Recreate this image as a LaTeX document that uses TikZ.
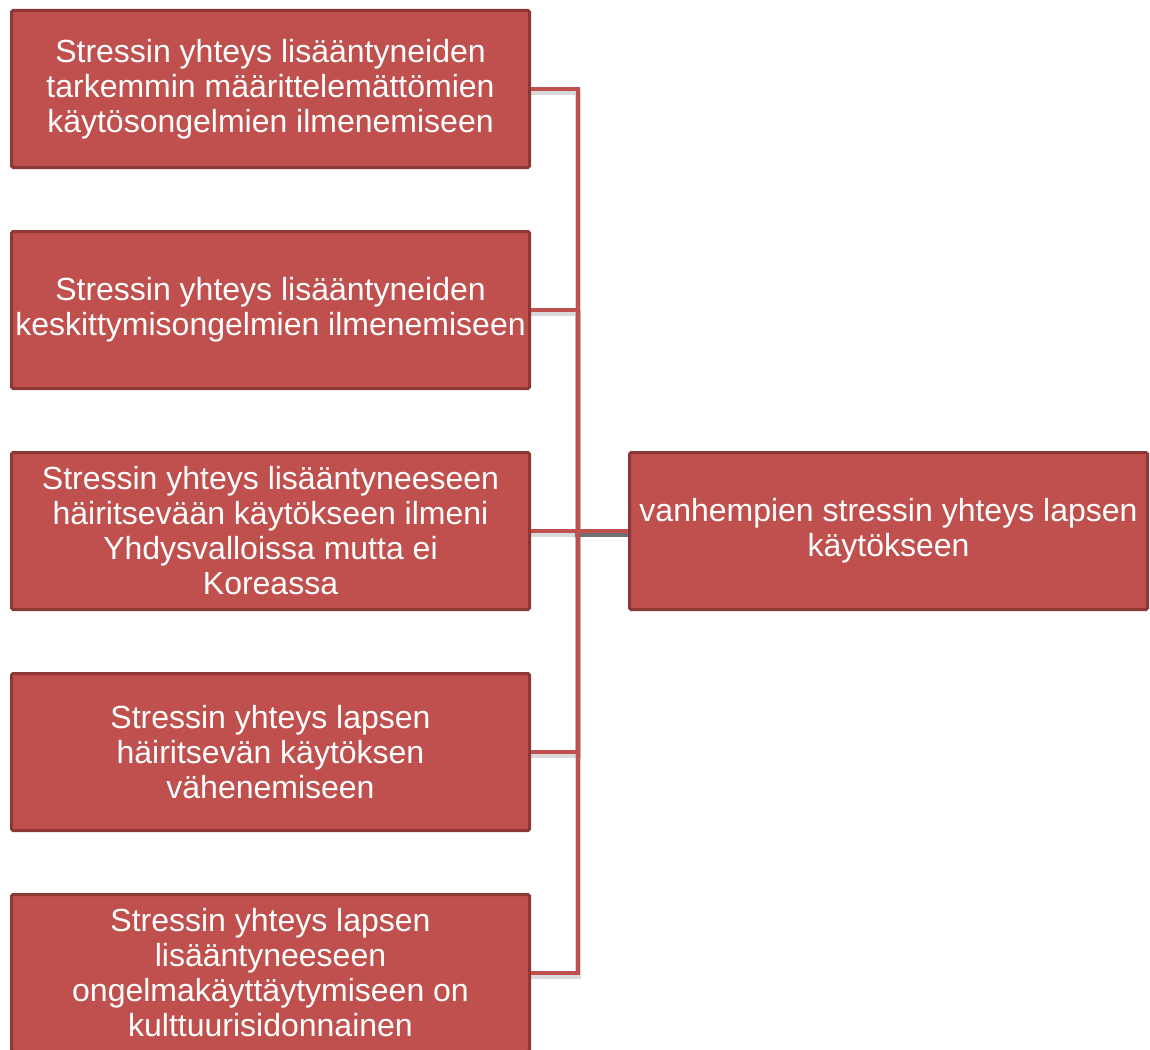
\documentclass[tikz,border=0pt]{standalone}
\usepackage{fontspec}
\setmainfont{Liberation Sans}
\usetikzlibrary{calc}
\definecolor{boxfill}{HTML}{C0504D}
\definecolor{boxline}{HTML}{8C3836}
\tikzset{
  box/.style={draw=boxline, line width=3pt, fill=boxfill, rounded corners=1.5pt,
    minimum width=518pt, minimum height=157pt, inner sep=1pt, text=white,
    align=center, font=\fontsize{32}{35}\selectfont},
  conn/.style={draw=boxfill, line width=4pt},
  connshadow/.style={draw=black, opacity=0.15, line width=6pt},
}
\begin{document}
\begin{tikzpicture}[x=1pt,y=-1pt]
\useasboundingbox (0,0) rectangle (1150,1049);
\fill[white] (0,0) rectangle (1150,1049);
\node[box] (b1) at (270.5,89) {Stressin yhteys lisääntyneiden\\tarkemmin määrittelemättömien\\käytösongelmien ilmenemiseen};
\node[box] (b2) at (270.5,310) {Stressin yhteys lisääntyneiden\\keskittymisongelmien ilmenemiseen};
\node[box] (b3) at (270.5,531) {Stressin yhteys lisääntyneeseen\\häiritsevään käytökseen ilmeni\\Yhdysvalloissa mutta ei\\Koreassa};
\node[box] (b4) at (270.5,752) {Stressin yhteys lapsen\\häiritsevän käytöksen\\vähenemiseen};
\node[box] (b5) at (270.5,973) {Stressin yhteys lapsen\\lisääntyneeseen\\ongelmakäyttäytymiseen on\\kulttuurisidonnainen};
\node[box] (r) at (888.5,531) {vanhempien stressin yhteys lapsen\\käytökseen};
\begin{scope}[transform canvas={shift={(0pt,-3pt)}}]
\foreach \b in {b1,b2,b3,b4,b5}
  \draw[connshadow] (\b.east) -- ++(47,0) |- (r.west);
\end{scope}
\foreach \b in {b1,b2,b3,b4,b5}
  \draw[conn] (\b.east) -- ++(47,0) |- (r.west);
\end{tikzpicture}
\end{document}
